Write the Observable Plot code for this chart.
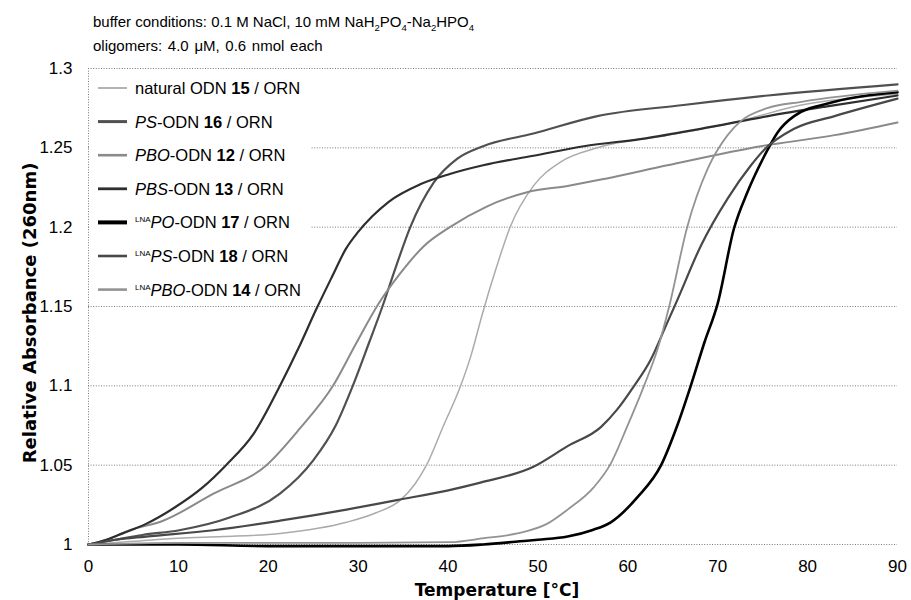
<!DOCTYPE html>
<html><head><meta charset="utf-8">
<script src="https://cdn.jsdelivr.net/npm/d3@7"></script>
<script src="https://cdn.jsdelivr.net/npm/@observablehq/plot@0.6"></script>
<style>
body{margin:0;background:#fff;}
#chart{width:911px;height:600px;}
</style>
</head><body><div id="chart"></div>
<script>
// ---- axis ticks ----
const xTicks = [0, 10, 20, 30, 40, 50, 60, 70, 80, 90];
const yTicks = [1, 1.05, 1.1, 1.15, 1.2, 1.25, 1.3];
const yTickLabels = ["1", "1.05", "1.1", "1.15", "1.2", "1.25", "1.3"];

// ---- series (temperature °C, relative absorbance) ----
const natural15 = [[0,1.0],[5,1.002],[10,1.004],[15,1.005],[21.3,1.007],[28.7,1.014],[32,1.02],[34.7,1.028],[36.3,1.038],[37.6,1.05],[39.5,1.075],[41.4,1.1],[42.6,1.12],[43.8,1.145],[45.4,1.175],[46.9,1.2],[49.5,1.226],[52.5,1.241],[56.6,1.25],[64.4,1.258],[71.8,1.266],[79.3,1.277],[90,1.284]];
const ps16 = [[0,1.0],[3,1.003],[6,1.006],[10.1,1.009],[15.7,1.017],[21.3,1.032],[25,1.053],[27.5,1.075],[29.4,1.1],[31.2,1.127],[32.7,1.15],[34.2,1.175],[35.8,1.2],[38.4,1.228],[41,1.243],[43.9,1.251],[49.5,1.259],[56.6,1.27],[66.2,1.277],[75.6,1.283],[90,1.29]];
const pbo12 = [[0,1.0],[2,1.003],[4.6,1.009],[8.3,1.015],[13.9,1.032],[19.8,1.05],[23.5,1.073],[27.2,1.1],[29.8,1.127],[32.3,1.152],[34.7,1.171],[37.3,1.188],[40.2,1.2],[44.3,1.213],[48.8,1.222],[53.3,1.226],[57,1.23],[64.4,1.239],[74.8,1.251],[83,1.258],[90,1.266]];
const pbs13 = [[0,1.0],[2,1.003],[3.8,1.007],[6.4,1.013],[9.5,1.023],[12.7,1.036],[15.3,1.05],[18.4,1.07],[21.3,1.1],[23.3,1.123],[25.4,1.149],[27.2,1.17],[28.6,1.186],[30,1.197],[31.6,1.207],[33.4,1.216],[36.9,1.227],[40.2,1.2335],[43.9,1.239],[49.5,1.245],[55.1,1.251],[62,1.256],[68.1,1.262],[75.6,1.27],[82,1.276],[90,1.283]];
const lnaPO17 = [[0,1.0],[10,1.0],[20,0.999],[30,0.999],[40,0.999],[43.9,1.0],[48,1.002],[50,1.003],[53.3,1.005],[56,1.009],[58.1,1.014],[61.1,1.03],[63.7,1.05],[65.5,1.075],[67,1.1],[68.5,1.127],[70,1.152],[71.8,1.199],[73.3,1.222],[75.2,1.245],[76.7,1.26],[78.5,1.27],[83,1.279],[90,1.285]];
const lnaPS18 = [[0,1.0],[3,1.003],[6.4,1.005],[13.9,1.009],[21.3,1.015],[28.7,1.022],[34.3,1.028],[39.9,1.034],[43.6,1.039],[49.5,1.049],[53.3,1.062],[57,1.074],[58.8,1.085],[60.7,1.1],[62.5,1.116],[64.4,1.14],[65.5,1.154],[68.1,1.188],[71.1,1.218],[73.7,1.239],[75.2,1.249],[78.5,1.262],[83,1.27],[90,1.281]];
const lnaPBO14 = [[0,1.0],[10,1.001],[20,1.001],[30,1.001],[40.2,1.0015],[44,1.004],[47.7,1.007],[51,1.013],[53.3,1.022],[56.2,1.036],[58.1,1.051],[59.9,1.074],[61.8,1.1],[63.3,1.123],[64.6,1.15],[66.6,1.2],[68.9,1.237],[71.1,1.258],[72.6,1.267],[75.5,1.275],[79.3,1.279],[90,1.286]];

// ---- legend categories ----
const seriesData = [natural15, ps16, pbo12, pbs13, lnaPO17, lnaPS18, lnaPBO14];
const legendParts = [
  [["natural ODN ",""],["15","b"],[" / ORN",""]],
  [["PS","i"],["-ODN ",""],["16","b"],[" / ORN",""]],
  [["PBO","i"],["-ODN ",""],["12","b"],[" / ORN",""]],
  [["PBS","i"],["-ODN ",""],["13","b"],[" / ORN",""]],
  [["LNA","s"],["PO","i"],["-ODN ",""],["17","b"],[" / ORN",""]],
  [["LNA","s"],["PS","i"],["-ODN ",""],["18","b"],[" / ORN",""]],
  [["LNA","s"],["PBO","i"],["-ODN ",""],["14","b"],[" / ORN",""]]
];

// ---- styles ----
const seriesStroke = ["#ababab", "#505050", "#8a8a8a", "#2e2e2e", "#000000", "#484848", "#939393"];
const seriesWidth  = [1.5, 2.2, 2, 2.2, 2.6, 2.2, 1.8];
const legendWidth  = [1.8, 3, 2.6, 2.8, 4, 2.6, 2.6];

const lineMarks = seriesData.map((s, i) => Plot.line(s, {
  x: d => d[0], y: d => d[1], stroke: seriesStroke[i], strokeWidth: seriesWidth[i],
  curve: "monotone-x", strokeLinejoin: "round"
}));

const plot = Plot.plot({
  width: 911, height: 600,
  marginTop: 68, marginBottom: 56, marginLeft: 88, marginRight: 14,
  style: {fontFamily: "'Liberation Sans', Arial, sans-serif", fontSize: "17px", background: "#fff", color: "#000"},
  x: {domain: [0, 90]},
  y: {domain: [1, 1.3]},
  marks: [
    Plot.ruleY(yTicks, {stroke: "#7a7a7a", strokeDasharray: "1,1.6", strokeWidth: 1}),
    Plot.ruleX([0], {stroke: "#7a7a7a", strokeDasharray: "1,1.6", strokeWidth: 1}),
    Plot.axisX({ticks: xTicks, tickSize: 0, tickPadding: 15, label: null, fontSize: 17}),
    Plot.axisY({ticks: yTicks, tickSize: 0, tickPadding: 16, label: null, fontSize: 17,
      tickFormat: d => yTickLabels[yTicks.indexOf(d)]}),
    ...lineMarks
  ]
});
document.getElementById("chart").appendChild(plot);

const svg = d3.select(plot);
const sans = "'Liberation Sans', Arial, sans-serif";

// header
const hdr = svg.append("g").attr("font-family", sans).attr("font-size", 15).attr("fill", "#000").attr("text-anchor", "start");
const h1 = hdr.append("text").attr("x", 93).attr("y", 27);
h1.append("tspan").text("buffer conditions: 0.1 M NaCl, 10 mM NaH");
h1.append("tspan").attr("font-size", 9.5).attr("dy", 4).text("2");
h1.append("tspan").attr("dy", -4).text("PO");
h1.append("tspan").attr("font-size", 9.5).attr("dy", 4).text("4");
h1.append("tspan").attr("dy", -4).text("-Na");
h1.append("tspan").attr("font-size", 9.5).attr("dy", 4).text("2");
h1.append("tspan").attr("dy", -4).text("HPO");
h1.append("tspan").attr("font-size", 9.5).attr("dy", 4).text("4");
hdr.append("text").attr("x", 93).attr("y", 51).attr("word-spacing", 1.5).text("oligomers: 4.0 \u03bcM, 0.6 nmol each");

// axis titles
svg.append("text").attr("x", 497).attr("y", 596).attr("text-anchor", "middle")
  .attr("font-family", "'DejaVu Sans', sans-serif").attr("font-weight", "bold").attr("font-size", 17)
  .text("Temperature [\u00b0C]");
svg.append("text").attr("transform", "translate(36,313) rotate(-90)").attr("text-anchor", "middle")
  .attr("font-family", "'DejaVu Sans', sans-serif").attr("font-weight", "bold").attr("font-size", 18)
  .text("Relative Absorbance (260nm)");

// legend
const lg = svg.append("g").attr("font-family", sans).attr("font-size", 16.5).attr("text-anchor", "start");
lg.append("rect").attr("x", 89.5).attr("y", 69.5).attr("width", 221).attr("height", 235).attr("fill", "#fff");
legendParts.forEach((parts, i) => {
  const yc = 88 + i * 33.6;
  lg.append("line").attr("x1", 98).attr("x2", 127).attr("y1", yc).attr("y2", yc)
    .attr("stroke", seriesStroke[i]).attr("stroke-width", legendWidth[i]);
  const t = lg.append("text").attr("x", 135).attr("y", yc + 6);
  let raised = false;
  parts.forEach(([txt, st]) => {
    const sp = t.append("tspan").text(txt);
    if (st === "s") { sp.attr("font-size", 8).attr("dy", -6); raised = true; }
    else if (raised) { sp.attr("dy", 6); raised = false; }
    if (st === "b") sp.attr("font-weight", "bold");
    if (st === "i") sp.attr("font-style", "italic");
  });
});
</script>
</body></html>
